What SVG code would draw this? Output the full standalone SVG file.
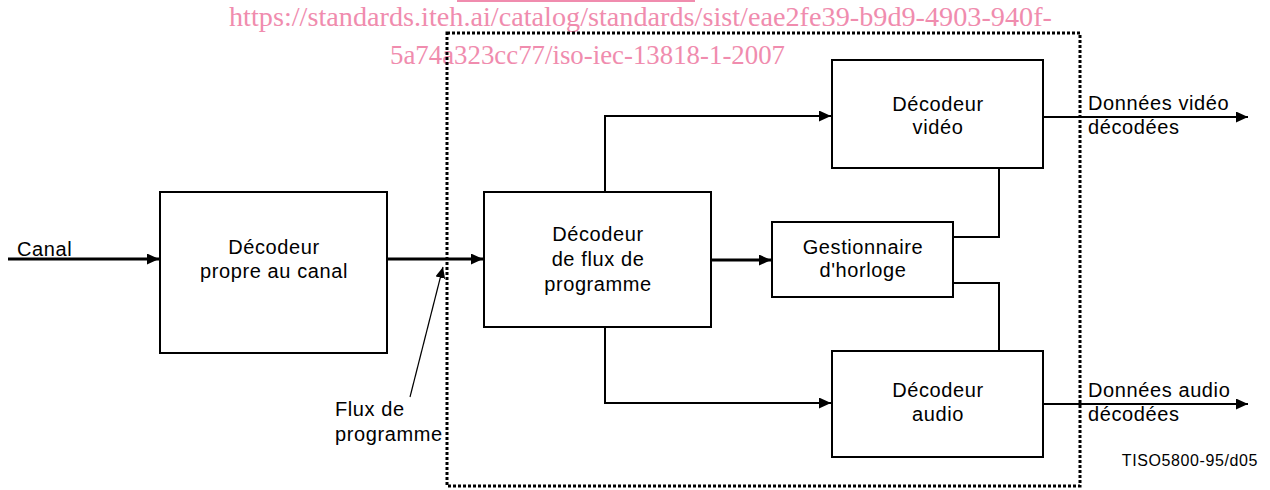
<svg xmlns="http://www.w3.org/2000/svg" width="1270" height="490" viewBox="0 0 1270 490">
<style>
.box{fill:#fff;stroke:#000;stroke-width:2}
.t{font-family:"Liberation Sans",Arial,sans-serif;font-size:20px;letter-spacing:0.6px;fill:#000}
.c{text-anchor:middle}
.thick{fill:none;stroke:#000;stroke-width:3}
.thin{fill:none;stroke:#000;stroke-width:2}
.hair{fill:none;stroke:#000;stroke-width:1.2}
.wm{font-family:"Liberation Serif","Times New Roman",serif;font-size:28px;fill:#f08cae}
</style>
<defs>
<marker id="ah" markerUnits="userSpaceOnUse" markerWidth="13" markerHeight="11" refX="12" refY="5.5" orient="auto">
<path d="M0,0 L12,5.5 L0,11 z" fill="#000"/>
</marker>
<marker id="ahs" markerUnits="userSpaceOnUse" markerWidth="12" markerHeight="10" refX="11" refY="5" orient="auto">
<path d="M0,0 L11,5 L0,10 z" fill="#000"/>
</marker>
</defs>
<rect width="1270" height="490" fill="#fff"/>

<g id="watermark">
<line x1="457" y1="1" x2="695" y2="1" stroke="#f08cae" stroke-width="2"/>
<text class="wm" x="229" y="26" textLength="823" lengthAdjust="spacingAndGlyphs">https://standards.iteh.ai/catalog/standards/sist/eae2fe39-b9d9-4903-940f-</text>
<text class="wm" x="390" y="64" textLength="395" lengthAdjust="spacingAndGlyphs">5a74a323cc77/iso-iec-13818-1-2007</text>
</g>

<g id="boundary">
<rect x="447" y="33" width="633" height="453" fill="none" stroke="#000" stroke-width="3" stroke-dasharray="3 2"/>
</g>

<g id="connectors">
<line class="thick" x1="8" y1="259" x2="159" y2="259" marker-end="url(#ah)"/>
<line class="thick" x1="387" y1="259" x2="483" y2="259" marker-end="url(#ah)"/>
<line class="thick" x1="711" y1="260" x2="771" y2="260" marker-end="url(#ah)"/>
<polyline class="thin" points="605,192 605,116 831,116" marker-end="url(#ah)"/>
<polyline class="thin" points="605,327 605,403 831,403" marker-end="url(#ah)"/>
<polyline class="thin" points="953,237 999,237 999,168"/>
<polyline class="thin" points="953,283 999,283 999,351"/>
<line class="thin" x1="1043" y1="117" x2="1248" y2="117" marker-end="url(#ah)"/>
<line class="thin" x1="1043" y1="404" x2="1248" y2="404" marker-end="url(#ah)"/>
<line class="hair" x1="410" y1="397" x2="443" y2="267" marker-end="url(#ahs)"/>
</g>

<g id="label-canal">
<text class="t" x="17" y="256">Canal</text>
</g>

<g id="node-canal-decoder">
<rect class="box" x="160" y="192" width="227" height="161"/>
<text class="t c" x="274" y="254">Décodeur</text>
<text class="t c" x="274" y="278">propre au canal</text>
</g>

<g id="node-program-decoder">
<rect class="box" x="484" y="192" width="227" height="135"/>
<text class="t c" x="598" y="241">Décodeur</text>
<text class="t c" x="598" y="266">de flux de</text>
<text class="t c" x="598" y="291">programme</text>
</g>

<g id="node-clock">
<rect class="box" x="772" y="222" width="181" height="75"/>
<text class="t c" x="863" y="254">Gestionnaire</text>
<text class="t c" x="863" y="277">d'horloge</text>
</g>

<g id="node-video">
<rect class="box" x="832" y="60" width="211" height="108"/>
<text class="t c" x="938" y="111">Décodeur</text>
<text class="t c" x="938" y="134">vidéo</text>
</g>

<g id="node-audio">
<rect class="box" x="832" y="351" width="211" height="106"/>
<text class="t c" x="938" y="397">Décodeur</text>
<text class="t c" x="938" y="421">audio</text>
</g>

<g id="labels">
<text class="t" x="1088" y="110">Données vidéo</text>
<text class="t" x="1088" y="134">décodées</text>
<text class="t" x="1088" y="397">Données audio</text>
<text class="t" x="1088" y="421">décodées</text>
<text class="t" x="335" y="416">Flux de</text>
<text class="t" x="335" y="441">programme</text>
<text class="t" x="1258" y="466" text-anchor="end" style="font-size:16px">TISO5800-95/d05</text>
</g>
</svg>
